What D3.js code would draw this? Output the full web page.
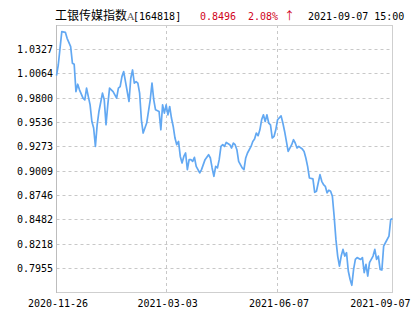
<!DOCTYPE html>
<html>
<head>
<meta charset="utf-8">
<script src="https://cdn.jsdelivr.net/npm/d3@7"></script>
<style>
	body { margin: 0; background: #fff; }
	text { font-family: 'DejaVu Sans Mono', 'Liberation Mono', monospace; font-size: 10px; fill: #000; }
</style>
</head>
<body>
<div id="chart"></div>
<script>
// header texts
var fundName = '工银传媒指数',
	fundClass = 'A',
	fundCode = '[164818]',
	lastNav = '0.8496',
	lastChange = '2.08%',
	changeArrow = '↑',
	updateTime = '2021-09-07 15:00';

// axis labels
var yTickLabels = ['0.7955', '0.8218', '0.8482', '0.8746', '0.9009', '0.9273', '0.9536', '0.9800', '1.0064', '1.0327'];
var xTickLabels = ['2020-11-26', '2021-03-03', '2021-06-07', '2021-09-07'];
var xTickDays = [0, 62, 125, 190];

// trading day number and unit NAV
var days = [0, 1, 3, 5, 6, 8, 9, 10, 11, 12, 13, 15, 16, 17, 18, 19, 20, 21, 22, 23,
	24, 26, 27, 28, 29, 30, 32, 33, 34, 35, 36, 37, 38, 39, 41, 42, 43, 44, 45, 46,
	47, 48, 49, 51, 53, 54, 55, 56, 58, 59, 60, 61, 62, 63, 64, 65, 66, 67, 68, 69,
	70, 71, 72, 73, 74, 75, 76, 77, 78, 79, 81, 82, 84, 86, 87, 88, 89, 90, 91, 92,
	93, 94, 95, 96, 98, 99, 100, 101, 102, 103, 105, 106, 107, 108, 110, 111, 112, 113, 114, 115,
	116, 117, 118, 119, 120, 121, 122, 123, 124, 125, 127, 128, 129, 130, 131, 133, 134, 135, 136, 137,
	139, 140, 141, 142, 143, 145, 146, 147, 149, 150, 151, 152, 153, 154, 155, 156, 157, 158, 159, 160,
	161, 162, 163, 164, 165, 166, 167, 168, 169, 170, 172, 173, 174, 175, 176, 177, 179, 180, 181, 182,
	183, 184, 185, 186, 188, 189, 190];
var navs = [1.0043, 1.0158, 1.0518, 1.0511, 1.0446, 1.0356, 1.0177, 1.0166, 0.9870, 0.9950, 0.9889, 0.9799, 0.9781, 0.9907, 0.9816, 0.9727, 0.9547, 0.9476, 0.9277, 0.9511,
	0.9655, 0.9853, 0.9781, 0.9511, 0.9727, 0.9907, 0.9870, 0.9835, 0.9799, 0.9907, 0.9924, 1.0032, 1.0086, 0.9978, 0.9763, 1.0015, 1.0104, 0.9961, 0.9978, 0.9961,
	0.9853, 0.9565, 0.9422, 0.9530, 0.9781, 0.9961, 0.9781, 0.9673, 0.9655, 0.9457, 0.9727, 0.9637, 0.9727, 0.9619, 0.9709, 0.9584, 0.9493, 0.9368, 0.9296, 0.9331,
	0.9169, 0.9098, 0.9169, 0.9206, 0.9026, 0.9134, 0.9134, 0.9115, 0.9159, 0.9062, 0.8990, 0.9026, 0.9134, 0.9188, 0.9152, 0.9044, 0.8954, 0.9062, 0.9044, 0.9134,
	0.9277, 0.9296, 0.9277, 0.9320, 0.9296, 0.9260, 0.9314, 0.9296, 0.9242, 0.9115, 0.9044, 0.9026, 0.9152, 0.9206, 0.9277, 0.9331, 0.9357, 0.9422, 0.9393, 0.9457,
	0.9565, 0.9619, 0.9547, 0.9619, 0.9530, 0.9511, 0.9368, 0.9385, 0.9457, 0.9565, 0.9608, 0.9530, 0.9439, 0.9331, 0.9223, 0.9296, 0.9350, 0.9314, 0.9260, 0.9277,
	0.9249, 0.9223, 0.9152, 0.9062, 0.8936, 0.8926, 0.8781, 0.8792, 0.8972, 0.8900, 0.8864, 0.8846, 0.8775, 0.8803, 0.8792, 0.8738, 0.8522, 0.8271, 0.8091, 0.7983,
	0.8091, 0.8163, 0.8091, 0.8128, 0.7929, 0.7840, 0.7775, 0.7947, 0.8055, 0.8074, 0.8055, 0.8074, 0.7912, 0.8001, 0.7875, 0.8020, 0.8091, 0.8163, 0.8055, 0.8091,
	0.7947, 0.7940, 0.8199, 0.8235, 0.8307, 0.8487, 0.8496];

var width = 415,
	height = 330,
	plot = {left: 56.5, right: 392.5, top: 25, bottom: 293};

var svg = d3.select('#chart').append('svg')
	.attr('width', width)
	.attr('height', height);

// y domain: one tick step beyond the first and last label
var yTicks = yTickLabels.map(Number);
var step = (yTicks[yTicks.length - 1] - yTicks[0]) / (yTicks.length - 1);

var x = d3.scaleLinear()
	.domain([0, d3.max(xTickDays)])
	.range([plot.left, plot.right]);

var y = d3.scaleLinear()
	.domain([yTicks[0] - step, yTicks[yTicks.length - 1] + step])
	.range([plot.bottom, plot.top]);

function crisp(v) { return Math.floor(v) + 0.5; }

// horizontal grid
svg.append('g').selectAll('line')
	.data(yTicks)
	.enter().append('line')
	.attr('x1', plot.left)
	.attr('x2', plot.right)
	.attr('y1', function(d) { return crisp(y(d)); })
	.attr('y2', function(d) { return crisp(y(d)); })
	.attr('stroke', '#c8c8c8')
	.attr('stroke-dasharray', '3,3');

// vertical grid (inner dates only)
svg.append('g').selectAll('line')
	.data(xTickDays.slice(1, -1))
	.enter().append('line')
	.attr('x1', function(d) { return crisp(x(d)); })
	.attr('x2', function(d) { return crisp(x(d)); })
	.attr('y1', plot.top)
	.attr('y2', plot.bottom)
	.attr('stroke', '#c8c8c8')
	.attr('stroke-dasharray', '3,3');

// frame
svg.append('rect')
	.attr('x', 56.5)
	.attr('y', 25.5)
	.attr('width', plot.right - 56.5)
	.attr('height', 292.5 - 25.5)
	.attr('fill', 'none')
	.attr('stroke', '#cfcfcf');

svg.append('line')
	.attr('x1', 56.5).attr('x2', 56.5)
	.attr('y1', 25).attr('y2', 293)
	.attr('stroke', '#bdbdbd');

// y labels
svg.append('g').selectAll('text')
	.data(yTickLabels)
	.enter().append('text')
	.attr('x', 53)
	.attr('y', function(d) { return y(+d); })
	.attr('dy', '0.35em')
	.attr('text-anchor', 'end')
	.text(function(d) { return d; });

// x labels, the last one kept inside the page
svg.append('g').selectAll('text')
	.data(xTickLabels)
	.enter().append('text')
	.attr('x', function(d, i) { return i === xTickLabels.length - 1 ? 410.5 : x(xTickDays[i]) + 1.5; })
	.attr('y', 306.5)
	.attr('text-anchor', function(d, i) { return i === xTickLabels.length - 1 ? 'end' : 'middle'; })
	.text(function(d) { return d; });

// NAV line
var line = d3.line()
	.x(function(d) { return x(d[0]); })
	.y(function(d) { return y(d[1]); });

svg.append('path')
	.datum(d3.zip(days, navs))
	.attr('d', line)
	.attr('fill', 'none')
	.attr('stroke', '#62a8f2')
	.attr('stroke-width', 1.7)
	.attr('stroke-linejoin', 'round');

// header
var head = svg.append('text')
	.attr('x', 55)
	.attr('y', 19.5);

head.append('tspan')
	.style('font-family', "'Noto Sans CJK SC', sans-serif")
	.style('font-size', '12px')
	.text(fundName);
head.append('tspan')
	.style('font-family', "'DejaVu Serif', serif")
	.style('font-size', '10px')
	.attr('fill', '#555')
	.text(fundClass);
head.append('tspan')
	.attr('x', 133)
	.text(fundCode);

svg.append('text')
	.attr('x', 200)
	.attr('y', 19.5)
	.style('fill', '#d0021b')
	.text(lastNav);

var change = svg.append('text')
	.attr('x', 248)
	.attr('y', 19.5)
	.style('fill', '#d0021b');
change.append('tspan').text(lastChange);
change.append('tspan')
	.attr('x', 284)
	.style('font-family', "'Noto Sans CJK SC', sans-serif")
	.style('font-size', '11px')
	.text(changeArrow);

svg.append('text')
	.attr('x', 308)
	.attr('y', 19.5)
	.text(updateTime);
</script>
</body>
</html>
